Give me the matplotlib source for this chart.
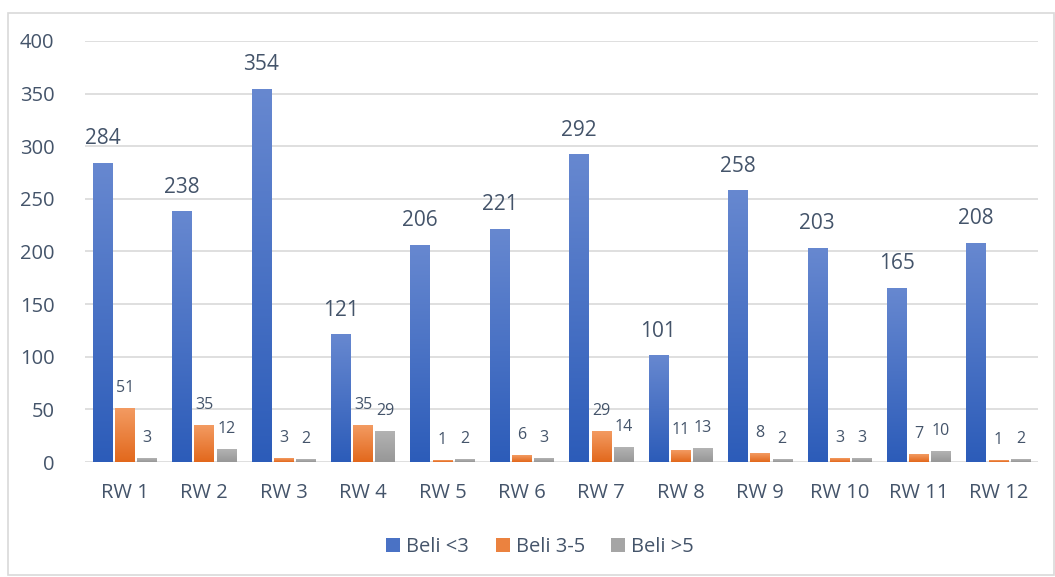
import numpy as np
import matplotlib.pyplot as plt
from matplotlib.colors import LinearSegmentedColormap
from matplotlib.patches import Rectangle, Patch

plt.rcParams['font.family'] = ['Open Sans', 'DejaVu Sans']

# data
categories = ['RW 1', 'RW 2', 'RW 3', 'RW 4', 'RW 5', 'RW 6',
              'RW 7', 'RW 8', 'RW 9', 'RW 10', 'RW 11', 'RW 12']
beli_lt3 = [284, 238, 354, 121, 206, 221, 292, 101, 258, 203, 165, 208]
beli_3_5 = [51, 35, 3, 35, 1, 6, 29, 11, 8, 3, 7, 1]
beli_gt5 = [3, 12, 2, 29, 2, 3, 14, 13, 2, 3, 10, 2]
series_names = ['Beli <3', 'Beli 3-5', 'Beli >5']

text_color = '#44546a'
grid_color = '#d9d9d9'
# (top colour, bottom colour) for the gradient fill
grads = [('#6788d0', '#2c5cb9'), ('#f39b62', '#e2681c'), ('#b3b3b3', '#979797')]

fig = plt.figure(figsize=(10.55, 5.77), dpi=100)
ax = fig.add_axes([0.0806, 0.1993, 0.9033, 0.7297])

# light border round the whole chart
fig.patches.append(Rectangle((8 / 1055, 0.004), 1 - 9 / 1055, 1 - 15 / 577,
                             transform=fig.transFigure, fill=False,
                             edgecolor=grid_color, linewidth=1.2))

x = np.arange(len(categories))
width = 0.245
offsets = [-0.28, 0.0, 0.28]
all_series = [beli_lt3, beli_3_5, beli_gt5]
gradient = np.linspace(0, 1, 256).reshape(-1, 1)

for i, (vals, (top, bottom)) in enumerate(zip(all_series, grads)):
    cmap = LinearSegmentedColormap.from_list('g%d' % i, [bottom, top])
    bars = ax.bar(x + offsets[i], vals, width, color='none', zorder=3)
    for b in bars:
        x0, y0 = b.get_x(), b.get_y()
        ax.imshow(gradient, extent=[x0, x0 + b.get_width(), y0, y0 + b.get_height()],
                  origin='lower', cmap=cmap, aspect='auto', zorder=3)
    if i == 0:
        ax.bar_label(bars, padding=10, fontsize=15, color=text_color)
    else:
        ax.bar_label(bars, padding=9, fontsize=11.5, color=text_color)

ax.set_xlim(-0.5, len(categories) - 0.5)
ax.set_ylim(0, 400)
ax.set_yticks(range(0, 401, 50))
ax.set_xticks(x)
ax.set_xticklabels(categories)
ax.tick_params(axis='both', length=0, labelsize=14.5, colors=text_color)
ax.tick_params(axis='x', pad=15)
ax.tick_params(axis='y', pad=22)
ax.grid(axis='y', color=grid_color, linewidth=1.2, zorder=0)
for s in ax.spines.values():
    s.set_visible(False)

handles = [Patch(facecolor=LinearSegmentedColormap.from_list('m', [c[1], c[0]])(0.5),
                 edgecolor='none') for c in grads]
fig.legend(handles, series_names, loc='center', bbox_to_anchor=(0.512, 0.052),
           ncol=3, frameon=False, fontsize=14.5, handlelength=0.7, handleheight=0.7,
           handletextpad=0.3, columnspacing=1.3, labelcolor=text_color)

fig.savefig('out.png', dpi=100)
